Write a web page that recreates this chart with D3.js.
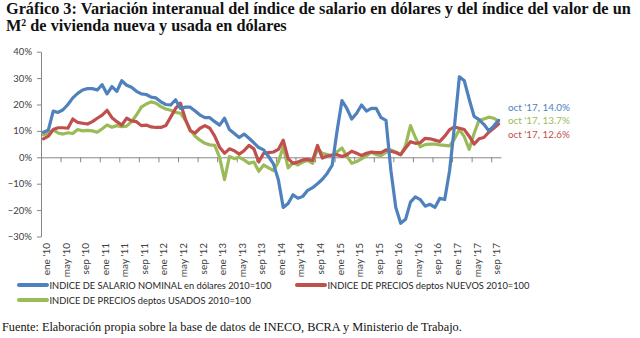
<!DOCTYPE html>
<html><head><meta charset="utf-8">
<script src="https://cdn.jsdelivr.net/npm/d3@7"></script>
<style>
html,body{margin:0;padding:0;background:#fff;}
svg{display:block;}
</style></head>
<body>
<svg id="chart" width="640" height="338"></svg>
<script>
// ---------- DATA ----------
const months = ["ene","feb","mar","abr","may","jun","jul","ago","sep","oct","nov","dic"];
const years = ["10","11","12","13","14","15","16","17"];
const tickLabels = ["ene '10","may '10","sep '10","ene '11","may '11","sep '11","ene '12","may '12","sep '12",
  "ene '13","may '13","sep '13","ene '14","may '14","sep '14","ene '15","may '15","sep '15",
  "ene '16","may '16","sep '16","ene '17","may '17","sep '17"];
const yTicks = [-0.3,-0.2,-0.1,0,0.1,0.2,0.3,0.4];

// Variación interanual (%), ene '10 .. oct '17
const salario = [9.5,10.3,17.5,17.0,18.0,20.0,22.5,24.2,25.5,26.0,26.0,25.5,27.5,24.0,26.8,25.0,29.0,27.3,26.5,25.0,
  24.0,23.8,22.8,22.5,21.0,20.0,19.8,21.8,18.5,19.0,19.0,17.5,16.0,15.0,15.0,13.5,12.2,14.8,10.5,9.0,
  7.5,8.8,7.2,5.5,3.7,2.8,0.3,-2.5,-8.5,-19.0,-17.5,-14.2,-15.5,-14.8,-12.5,-11.5,-10.0,-8.3,-6.0,-3.0,
  10.0,21.5,18.5,14.5,16.7,19.8,17.5,18.5,18.5,15.0,14.0,-5.0,-19.0,-25.0,-23.5,-17.0,-15.0,-16.0,-18.5,-17.8,
  -19.0,-15.5,-16.0,-5.0,12.0,30.5,29.0,22.0,15.5,14.3,12.5,10.0,11.8,14.0];
const nuevos = [7.0,8.0,10.5,11.2,11.2,11.0,14.5,13.2,12.9,12.6,13.5,14.8,16.0,17.8,15.0,13.5,12.2,14.8,13.8,13.5,
  12.0,12.2,11.5,11.3,11.3,12.0,15.2,18.5,20.5,14.5,10.0,9.2,11.0,12.0,11.0,8.0,3.8,1.5,3.2,2.5,
  1.2,2.5,4.5,3.2,-1.8,1.5,1.8,2.0,3.0,6.5,-0.5,-2.3,-1.8,-1.0,-0.8,-1.2,4.5,-0.3,0.5,0.8,
  1.0,0.3,1.0,2.3,1.5,0.7,1.5,2.0,1.8,1.8,2.8,2.3,1.8,1.0,3.5,5.9,5.3,5.5,7.2,7.0,
  6.5,6.0,8.0,10.5,11.5,11.0,10.5,8.0,5.0,7.0,7.5,9.5,11.0,12.6];
const usados = [8.5,9.2,10.4,9.2,8.8,9.3,9.0,10.5,10.0,10.2,10.0,9.5,10.8,12.2,11.4,12.0,11.6,11.8,13.5,16.0,
  19.0,20.2,21.0,20.5,19.2,18.3,17.8,17.0,16.7,14.0,10.5,8.0,6.5,5.3,4.7,4.5,0.0,-8.5,0.3,-0.5,
  0.0,-1.0,-2.3,-1.8,-5.3,-2.9,-4.0,-5.0,-1.8,4.0,-4.0,-2.0,-2.9,-1.8,-1.2,-2.3,3.2,1.5,1.0,0.6,
  2.1,3.5,0.5,-2.3,-1.6,-0.6,0.6,1.9,1.0,0.6,1.9,2.8,2.0,1.0,4.5,12.0,7.5,4.0,4.8,5.0,
  5.0,4.7,4.5,4.3,7.0,10.5,7.8,3.0,9.0,14.0,14.5,15.2,14.8,13.7];

const seriesNames = ["INDICE DE SALARIO NOMINAL en dólares 2010=100",
  "INDICE DE PRECIOS deptos NUEVOS 2010=100",
  "INDICE DE PRECIOS deptos USADOS 2010=100"];
const endLabels = ["oct '17, 14.0%","oct '17, 13.7%","oct '17, 12.6%"];
const colors = ["#4F81BD","#C0504D","#9BBB59"];

const categories = [];
years.forEach(y => months.forEach(m => categories.push(m + " '" + y)));
categories.length = salario.length;

// ---------- CHART ----------
const svg = d3.select("#chart");
const FONT = "Lato, 'Liberation Sans', sans-serif";
const SERIF = "'Liberation Serif', 'Times New Roman', serif";

function fit(sel, w){
  const l = sel.node().getComputedTextLength();
  const fs = parseFloat(sel.attr("font-size"));
  sel.attr("font-size", (fs * w / l).toFixed(2));
}

// Title
const t1 = svg.append("text").attr("x",6).attr("y",14).attr("font-family",SERIF)
  .attr("font-weight","bold").attr("font-size",14).attr("fill","#111")
  .text("Gráfico 3: Variación interanual del índice de salario en dólares y del índice del valor de un");
fit(t1, 625);
const tfs = +t1.attr("font-size");
const t2 = svg.append("text").attr("x",6).attr("y",31).attr("font-family",SERIF)
  .attr("font-weight","bold").attr("font-size",tfs).attr("fill","#111");
t2.append("tspan").text("M");
t2.append("tspan").attr("dy",-5).attr("font-size",tfs*0.6).text("2");
t2.append("tspan").attr("dy",5).text(" de vivienda nueva y usada en dólares");

// Scales
const x = d3.scaleBand().domain(d3.range(categories.length)).range([41,501]);
const xb = d3.scaleLinear().domain([0,categories.length]).range([41,501]);
const y = d3.scaleLinear().domain([-0.3,0.4]).range([236.5,51.7]);
const cx = i => x(i) + x.bandwidth()/2;

// Y axis
const ya = svg.append("g").attr("transform","translate(41,0)")
  .call(d3.axisLeft(y).tickValues(yTicks).tickFormat(d3.format(".0%")).tickSize(4).tickSizeOuter(0));
ya.select(".domain").attr("stroke","#868686");
ya.selectAll(".tick line").attr("stroke","#868686");
ya.selectAll(".tick text").attr("font-family",FONT).attr("font-size",9.5).attr("fill","#404040")
  .attr("x",-9);

// X axis (at 0%)
const xa = svg.append("g").attr("transform",`translate(0,${y(0)})`)
  .call(d3.axisBottom(xb).tickValues(d3.range(4,categories.length,4)).tickFormat("").tickSize(5).tickSizeOuter(0));
xa.select(".domain").attr("stroke","#868686");
xa.selectAll(".tick line").attr("stroke","#868686");

// X labels (low position)
svg.append("g").selectAll("text").data(tickLabels).join("text")
  .attr("transform",(d,k)=>`translate(${cx(k*4)+2.5},243) rotate(-90)`)
  .attr("text-anchor","end").attr("dominant-baseline","central")
  .attr("font-family",FONT).attr("font-size",10).attr("fill","#404040")
  .text(d=>d);

// Lines
const line = d3.line().x((d,i)=>cx(i)).y(d=>y(d/100)).curve(d3.curveLinear);
const data = [salario, nuevos, usados];
const order = [2,1,0];
order.forEach(k=>{
  svg.append("path").datum(data[k]).attr("d",line).attr("fill","none")
    .attr("stroke",colors[k]).attr("stroke-width",3.2).attr("stroke-linejoin","round").attr("stroke-linecap","round");
});

// End labels
const endY = [107, 120, 134];
const endColor = [0,2,1];
endLabels.forEach((t,j)=>{
  const s = svg.append("text").attr("x",508).attr("y",endY[j]).attr("dominant-baseline","central")
    .attr("font-family",FONT).attr("font-size",10).attr("fill",colors[endColor[j]]).text(t);
  fit(s, 62);
});

// Legend
const leg = [
  {k:0, x:17, y:285, w:222},
  {k:1, x:295, y:285, w:201},
  {k:2, x:17, y:300, w:200}
];
let legFs = null;
leg.forEach((L,j)=>{
  svg.append("line").attr("x1",L.x+2).attr("x2",L.x+30).attr("y1",L.y).attr("y2",L.y)
    .attr("stroke",colors[L.k]).attr("stroke-width",4).attr("stroke-linecap","round");
  const s = svg.append("text").attr("x",L.x+32.5).attr("y",L.y).attr("dominant-baseline","central")
    .attr("font-family",FONT).attr("font-size",10).attr("fill","#262626").text(seriesNames[L.k]);
  if(j===0){ fit(s, L.w); legFs = s.attr("font-size"); } else s.attr("font-size",legFs);
});

// Footer
const f = svg.append("text").attr("x",2).attr("y",331).attr("font-family",SERIF)
  .attr("font-size",12).attr("fill","#111")
  .text("Fuente: Elaboración propia sobre la base de datos de INECO, BCRA y Ministerio de Trabajo.");
fit(f, 460);
</script>
</body></html>
